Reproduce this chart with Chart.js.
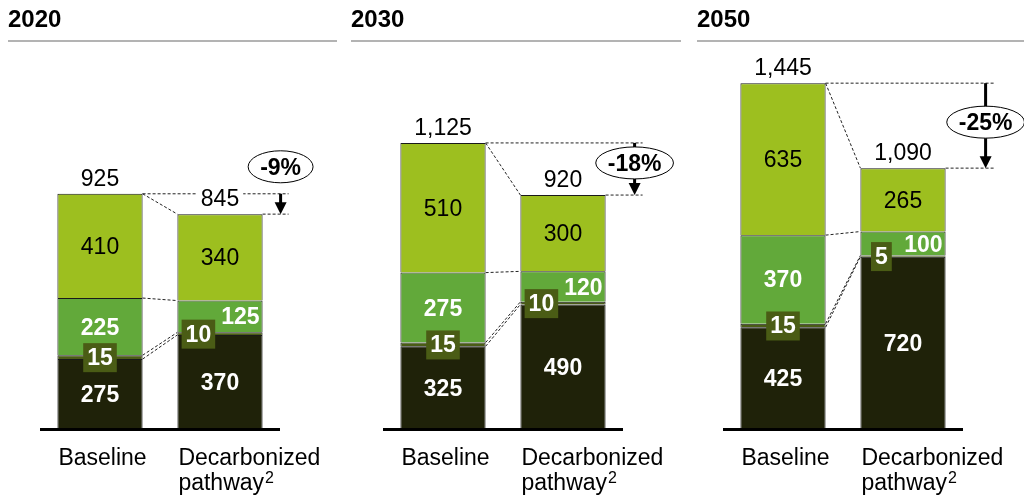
<!doctype html>
<html>
<head>
<title>Emissions: baseline vs decarbonized pathway</title>
<script src="https://cdn.jsdelivr.net/npm/chart.js@4.4.0/dist/chart.umd.min.js"></script>
<style>
    body { margin: 0; background: #fff; width: 1024px; height: 499px; overflow: hidden; position: relative; }
    canvas { position: absolute; top: 0; }
</style>
</head>
<body>
<canvas id="c0" width="343" height="499" style="left:0px"></canvas>
<canvas id="c1" width="346" height="499" style="left:343px"></canvas>
<canvas id="c2" width="335" height="499" style="left:689px"></canvas>
<script>
    // data
    var YEARS = ['2020', '2030', '2050'];
    var CATEGORIES = [['Baseline'], ['Decarbonized', 'pathway']];
    var CAT_NOTE = ['', '2'];
    var DARK = [[275, 370], [325, 490], [425, 720]];
    var OLIVE = [[15, 10], [15, 10], [15, 5]];
    var MEDIUM = [[225, 125], [275, 120], [370, 100]];
    var LIGHT = [[410, 340], [510, 300], [635, 265]];
    var TOTALS = [[925, 845], [1125, 920], [1445, 1090]];
    var CHANGE = ['-9%', '-18%', '-25%'];
    var Y_MAX = [1400, 1400, 1500];

    // layout per panel (px)
    var PAD_LEFT = [40, 40, 34];
    var PAD_TOP = [73, 73, 70];
    var RULE_W = [329, 330, 327];
    var ARROW_DX = [18, 29, 40];
    var BUBBLE_DY = [-27, 20, 39];

    var COLORS = ['#1f2209', '#4a5c15', '#62a93a', '#9dbf1f'];
    var FONT = '"Liberation Sans", Arial, sans-serif';

    function f(size, bold) { return (bold ? 'bold ' : '') + size + 'px ' + FONT; }
    function fmt(n) { return String(n).replace(/\B(?=(\d{3})+(?!\d))/g, ','); }

    var deco = {
        id: 'deco',
        afterDatasetsDraw: function (chart, args, o) {
            var p = o.panel, ctx = chart.ctx, y = chart.scales.y, a = chart.chartArea;
            var bars = chart.getDatasetMeta(0).data;
            var series = [DARK[p], OLIVE[p], MEDIUM[p], LIGHT[p]];
            var b0 = bars[0], b1 = bars[1];
            var r0 = b0.x + b0.width / 2, l1 = b1.x - b1.width / 2, r1 = b1.x + b1.width / 2;
            ctx.save();

            // title and rule
            ctx.fillStyle = '#000';
            ctx.font = f(24, true);
            ctx.textAlign = 'left';
            ctx.fillText(YEARS[p], 8, 27);
            ctx.fillStyle = '#b3b3b3';
            ctx.fillRect(8, 40, RULE_W[p], 2);

            // axis line
            ctx.fillStyle = '#000';
            ctx.fillRect(a.left, a.bottom - 1, a.right - a.left, 3);

            // connectors between the bars
            ctx.strokeStyle = '#222';
            ctx.lineWidth = 1;
            ctx.setLineDash([3, 2]);
            var c0 = 0, c1 = 0;
            for (var s = 0; s < series.length; s++) {
                c0 += series[s][0];
                c1 += series[s][1];
                ctx.beginPath();
                ctx.moveTo(r0, y.getPixelForValue(c0));
                ctx.lineTo(l1, y.getPixelForValue(c1));
                ctx.stroke();
            }
            var ax = r1 + ARROW_DX[p];
            var yTop = y.getPixelForValue(TOTALS[p][0]), yBot = y.getPixelForValue(TOTALS[p][1]);
            ctx.beginPath();
            ctx.moveTo(r0, yTop); ctx.lineTo(ax + 8, yTop);
            ctx.moveTo(r1, yBot); ctx.lineTo(ax + 8, yBot);
            ctx.stroke();
            ctx.setLineDash([]);

            // segment labels
            for (var i = 0; i < 2; i++) {
                var bar = bars[i], left = bar.x - bar.width / 2, right = bar.x + bar.width / 2;
                var cum = 0;
                for (var s = 0; s < series.length; s++) {
                    var v = series[s][i];
                    var yl = y.getPixelForValue(cum), yh = y.getPixelForValue(cum + v);
                    var cy = (yl + yh) / 2;
                    cum += v;
                    if (s == 3) {
                        ctx.font = f(23); ctx.fillStyle = '#000'; ctx.textAlign = 'center';
                        ctx.fillText(v, bar.x, cy + 8);
                    } else if (s == 2) {
                        ctx.font = f(23, true); ctx.fillStyle = '#fff';
                        if (yl - yh < 40) { ctx.textAlign = 'right'; ctx.fillText(v, right - 3, cy + 8); }
                        else { ctx.textAlign = 'center'; ctx.fillText(v, bar.x, cy + 8); }
                    } else if (s == 1) {
                        ctx.font = f(23, true);
                        var tw = ctx.measureText(v).width;
                        var bx = i == 0 ? bar.x : left + 21;
                        ctx.fillStyle = COLORS[1];
                        ctx.fillRect(bx - tw / 2 - 4, cy - 14, tw + 8, 29);
                        ctx.fillStyle = '#fff'; ctx.textAlign = 'center';
                        ctx.fillText(v, bx, cy + 8);
                    } else {
                        ctx.font = f(23, true); ctx.fillStyle = '#fff'; ctx.textAlign = 'center';
                        ctx.fillText(v, bar.x, cy + 8);
                    }
                }

                // totals
                ctx.font = f(23); ctx.textAlign = 'center';
                var t = fmt(TOTALS[p][i]), w = ctx.measureText(t).width;
                var ty = y.getPixelForValue(TOTALS[p][i]) - 8;
                ctx.fillStyle = '#fff';
                ctx.fillRect(bar.x - w / 2 - 4, ty - 18, w + 8, 21);
                ctx.fillStyle = '#000';
                ctx.fillText(t, bar.x, ty);

                // category labels
                ctx.textAlign = 'left';
                var lines = CATEGORIES[i];
                for (var k = 0; k < lines.length; k++) {
                    ctx.font = f(23);
                    ctx.fillText(lines[k], left + 1, 465 + k * 25);
                    if (k == lines.length - 1 && CAT_NOTE[i]) {
                        var lw = ctx.measureText(lines[k]).width;
                        ctx.font = f(16);
                        ctx.fillText(CAT_NOTE[i], left + 2 + lw, 465 + k * 25 - 7);
                    }
                }
            }

            // change arrow and bubble
            ctx.fillStyle = '#000';
            ctx.fillRect(ax - 1.5, yTop, 3, yBot - yTop - 10);
            ctx.beginPath();
            ctx.moveTo(ax - 6, yBot - 12);
            ctx.lineTo(ax + 6, yBot - 12);
            ctx.lineTo(ax, yBot);
            ctx.closePath();
            ctx.fill();

            var by = yTop + BUBBLE_DY[p];
            ctx.font = f(23, true);
            var pw = ctx.measureText(CHANGE[p]).width;
            ctx.beginPath();
            ctx.ellipse(ax, by, pw / 2 + 12, 16, 0, 0, 2 * Math.PI);
            ctx.fillStyle = '#fff';
            ctx.fill();
            ctx.strokeStyle = '#000';
            ctx.lineWidth = 1;
            ctx.stroke();
            ctx.fillStyle = '#000';
            ctx.textAlign = 'center';
            ctx.fillText(CHANGE[p], ax, by + 8);

            ctx.restore();
        }
    };

    var NAMES = ['dark', 'olive', 'medium', 'light'];
    for (var p = 0; p < 3; p++) {
        var vals = [DARK[p], OLIVE[p], MEDIUM[p], LIGHT[p]];
        var canvas = document.getElementById('c' + p);
        var datasets = [];
        for (var s = 0; s < 4; s++) {
            datasets.push({
                label: NAMES[s],
                data: vals[s],
                backgroundColor: COLORS[s],
                borderColor: '#1a1a1a',
                borderWidth: 1,
                barPercentage: 0.71,
                categoryPercentage: 1
            });
        }
        new Chart(canvas.getContext('2d'), {
            type: 'bar',
            data: { labels: CATEGORIES.map(function (c) { return c.join(' '); }), datasets: datasets },
            options: {
                responsive: false,
                animation: false,
                layout: { padding: { left: PAD_LEFT[p], right: canvas.width - PAD_LEFT[p] - 240, top: PAD_TOP[p], bottom: 70 } },
                scales: {
                    x: { stacked: true, display: false },
                    y: { stacked: true, display: false, min: 0, max: Y_MAX[p] }
                },
                plugins: {
                    legend: { display: false },
                    tooltip: { enabled: false },
                    deco: { panel: p }
                }
            },
            plugins: [deco]
        });
    }
</script>
</body>
</html>
